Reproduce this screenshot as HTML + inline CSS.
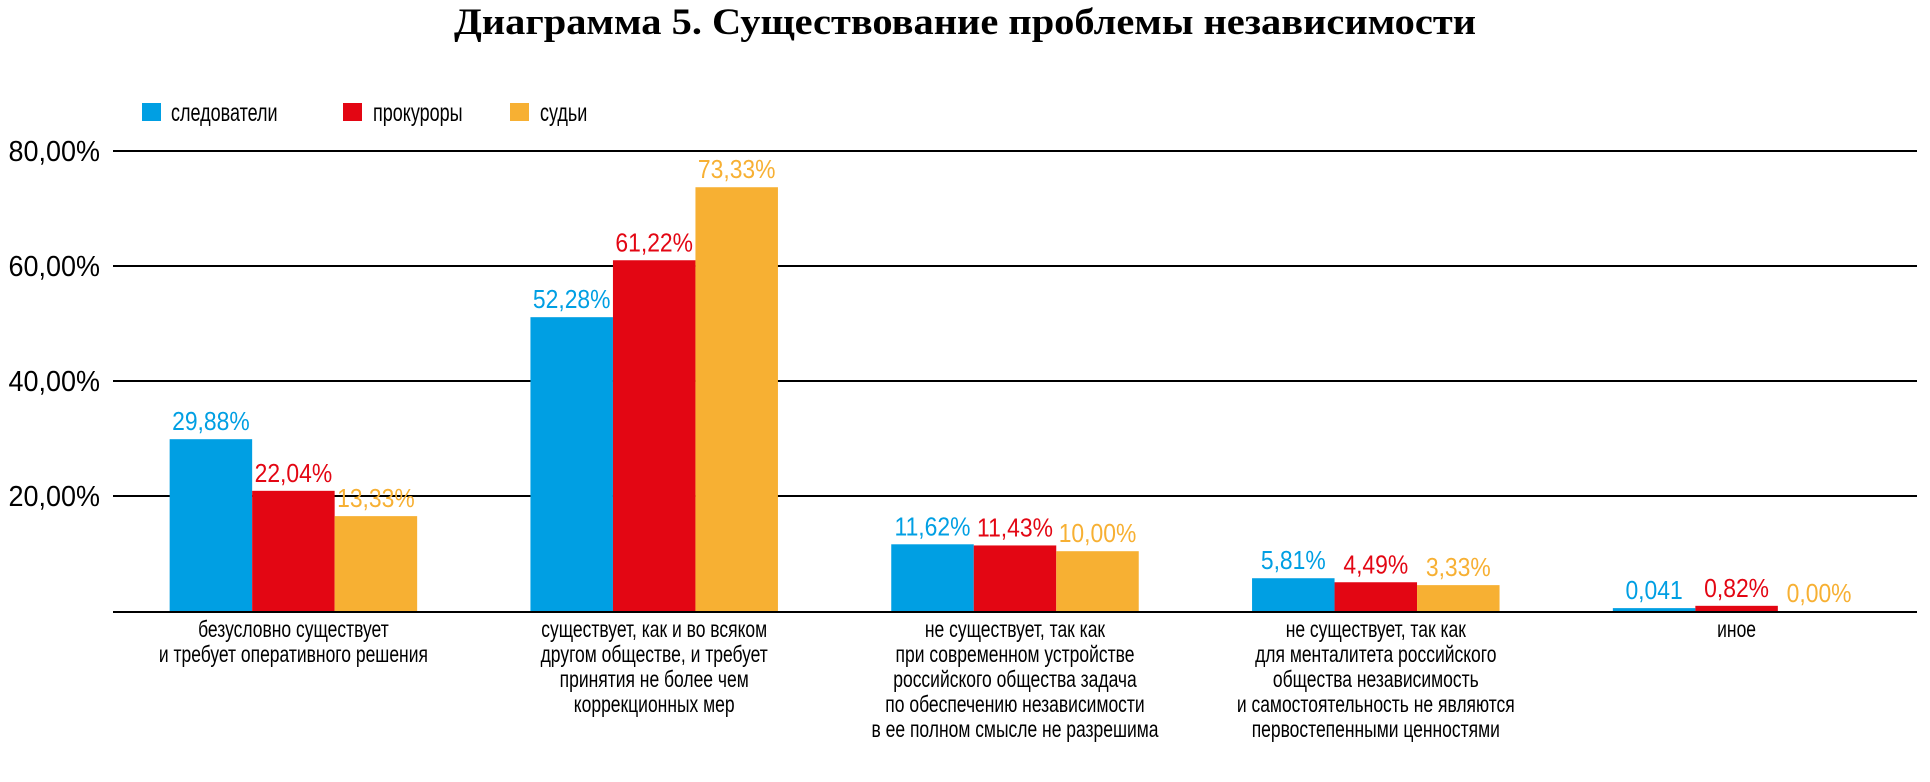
<!DOCTYPE html>
<html><head><meta charset="utf-8"><style>
html,body{margin:0;padding:0;background:#fff;}
svg{display:block;}
.n{font-family:"Liberation Sans Narrow","Liberation Sans","DejaVu Sans Condensed",sans-serif;}
</style></head><body>
<svg id="chart" width="1930" height="782" viewBox="0 0 1930 782" xmlns="http://www.w3.org/2000/svg">
<text x="965" y="34" text-anchor="middle" font-family="Liberation Serif, serif" font-weight="bold" font-size="37" textLength="1022" lengthAdjust="spacingAndGlyphs">Диаграмма 5. Существование проблемы независимости</text>
<g class="n" font-size="25">
<g><rect x="142" y="103" width="19" height="18" fill="#009fe3"/><text data-sq="0.72" x="171" y="121">следователи</text></g>
<g><rect x="343" y="103" width="19" height="18" fill="#e30613"/><text data-sq="0.72" x="373" y="121">прокуроры</text></g>
<g><rect x="510" y="103" width="19" height="18" fill="#f7b033"/><text data-sq="0.72" x="540" y="121">судьи</text></g>
</g>
<g id="grid"></g>
<g id="bars"></g>
<g id="labels" class="n" font-size="26"></g>
<g id="cats" class="n" font-size="23"></g>
</svg>
<script>
const categories = [
 ["безусловно существует","и требует оперативного решения"],
 ["существует, как и во всяком","другом обществе, и требует","принятия не более чем","коррекционных мер"],
 ["не существует, так как","при современном устройстве","российского общества задача","по обеспечению независимости","в ее полном смысле не разрешима"],
 ["не существует, так как","для менталитета российского","общества независимость","и самостоятельность не являются","первостепенными ценностями"],
 ["иное"]
];
const investigators = [29.88, 51.1, 11.6, 5.7, 0.5];
const prosecutors = [20.9, 61.0, 11.4, 5.0, 0.9];
const judges = [16.5, 73.7, 10.4, 4.5, 0];
const investigatorsText = ["29,88%","52,28%","11,62%","5,81%","0,041"];
const prosecutorsText = ["22,04%","61,22%","11,43%","4,49%","0,82%"];
const judgesText = ["13,33%","73,33%","10,00%","3,33%","0,00%"];
const ticks = [20, 40, 60, 80];
const tickText = ["20,00%","40,00%","60,00%","80,00%"];

const NS="http://www.w3.org/2000/svg";
const x0=113, x1=1917, yBase=611, perUnit=5.75;
const band=(x1-x0)/categories.length, barW=82.5;
function y(v){return yBase - v*perUnit;}
function cx(i){return x0 + band*(i+0.5);}
function mk(tag, attrs, parent){const e=document.createElementNS(NS,tag);for(const k in attrs)e.setAttribute(k,attrs[k]);parent.appendChild(e);return e;}
const grid=document.getElementById('grid'), bars=document.getElementById('bars'), labels=document.getElementById('labels'), cats=document.getElementById('cats');
ticks.forEach((t,i)=>{
  const l=mk('line',{x1:x0,x2:x1,y1:y(t),y2:y(t),stroke:'#000','stroke-width':2},grid);
  
  
  const tx=mk('text',{x:100,y:y(t)+10,'text-anchor':'end','font-size':29,class:'n','data-sq':'0.93'},grid);
  tx.textContent=tickText[i];
  
  
});
const series=[[investigators,investigatorsText,'#009fe3','investigators'],[prosecutors,prosecutorsText,'#e30613','prosecutors'],[judges,judgesText,'#f7b033','judges']];
categories.forEach((c,i)=>{
  series.forEach((s,j)=>{
    const v=s[0][i];
    const bx=cx(i)-1.5*barW+j*barW;
    const r=mk('rect',{x:bx,y:y(v),width:barW,height:Math.max(0,yBase-y(v)),fill:s[2]},bars);
    
    
    const t=mk('text',{x:bx+barW/2,y:y(v)-9,'text-anchor':'middle',fill:s[2],'data-sq':'0.88'},labels);
    t.textContent=s[1][i];
    
    
  });
  c.forEach((line,k)=>{
    const t=mk('text',{x:cx(i),y:637+k*25,'text-anchor':'middle','data-sq':'0.76'},cats);
    t.textContent=line;
    
    
  });
});
const ax=mk('line',{x1:x0,x2:x1,y1:yBase+1,y2:yBase+1,stroke:'#000','stroke-width':2},grid);


document.querySelectorAll('text[data-sq]').forEach(t=>{
  const w=t.getComputedTextLength()*parseFloat(t.getAttribute('data-sq'));
  t.setAttribute('textLength',w.toFixed(1));
  t.setAttribute('lengthAdjust','spacingAndGlyphs');
});
</script>
</body></html>
